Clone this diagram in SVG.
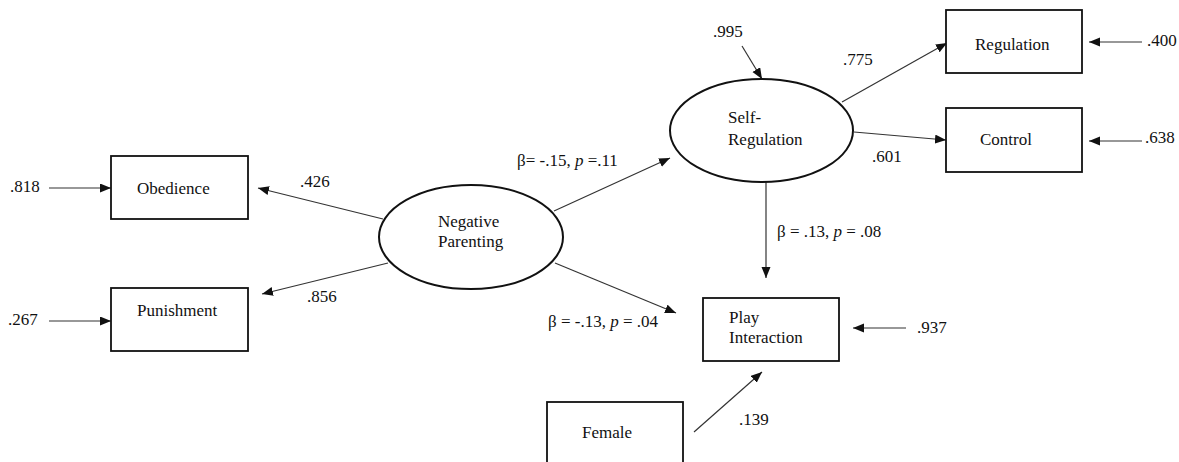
<svg xmlns="http://www.w3.org/2000/svg" width="1179" height="462" viewBox="0 0 1179 462">
<style>
text{font-family:'Liberation Serif','DejaVu Serif',serif;font-size:17px;fill:#111}
.box{fill:#fff;stroke:#111;stroke-width:1.8}
.ell{fill:#fff;stroke:#111;stroke-width:2}
.ln{stroke:#333;stroke-width:1.2;fill:none;marker-end:url(#ah)}
.i{font-style:italic}
</style>
<defs>
<marker id="ah" markerUnits="userSpaceOnUse" markerWidth="12" markerHeight="10" refX="11" refY="4.5" orient="auto">
<path d="M0,0 L11,4.5 L0,9 z" fill="#111"/>
</marker>
</defs>
<rect width="1179" height="462" fill="#fff"/>
<g id="connectors">
<line class="ln" x1="49" y1="188" x2="111" y2="188"/>
<line class="ln" x1="49" y1="321" x2="111" y2="321"/>
<line class="ln" x1="383" y1="219" x2="258" y2="188"/>
<line class="ln" x1="388" y1="263" x2="262" y2="294"/>
<line class="ln" x1="554" y1="211" x2="670" y2="158"/>
<line class="ln" x1="555" y1="263" x2="676" y2="313"/>
<line class="ln" x1="742" y1="46" x2="762" y2="79"/>
<line class="ln" x1="842" y1="102" x2="947" y2="43"/>
<line class="ln" x1="854" y1="132" x2="946" y2="140"/>
<line class="ln" x1="1142" y1="42" x2="1089" y2="42"/>
<line class="ln" x1="1142" y1="141" x2="1089" y2="141"/>
<line class="ln" x1="766" y1="182" x2="766" y2="278"/>
<line class="ln" x1="906" y1="328" x2="853" y2="328"/>
<line class="ln" x1="694" y1="432" x2="762" y2="372"/>
<text x="10" y="192">.818</text>
<text x="8" y="325">.267</text>
<text x="300" y="187">.426</text>
<text x="307" y="302">.856</text>
<text x="517" y="166">β= -.15, <tspan class="i">p</tspan> =.11</text>
<text x="548" y="327">β = -.13, <tspan class="i">p</tspan> = .04</text>
<text x="713" y="37">.995</text>
<text x="843" y="65">.775</text>
<text x="872" y="162">.601</text>
<text x="1147" y="46">.400</text>
<text x="1145" y="143">.638</text>
<text x="777" y="237">β = .13, <tspan class="i">p</tspan> = .08</text>
<text x="917" y="333">.937</text>
<text x="739" y="425">.139</text>
</g>
<g id="obedience">
<rect class="box" x="111" y="156" width="137" height="63"/>
<text x="137" y="194">Obedience</text>
</g>
<g id="punishment">
<rect class="box" x="111" y="288" width="137" height="63"/>
<text x="137" y="316">Punishment</text>
</g>
<g id="negative-parenting">
<ellipse class="ell" cx="471" cy="237" rx="92" ry="52"/>
<text x="438" y="227">Negative</text>
<text x="438" y="247">Parenting</text>
</g>
<g id="self-regulation">
<ellipse class="ell" cx="761.5" cy="130.5" rx="91.5" ry="51.5"/>
<text x="728" y="123">Self-</text>
<text x="728" y="145">Regulation</text>
</g>
<g id="regulation">
<rect class="box" x="946" y="10" width="136" height="63"/>
<text x="975" y="50">Regulation</text>
</g>
<g id="control">
<rect class="box" x="946" y="108" width="136" height="64"/>
<text x="980" y="145">Control</text>
</g>
<g id="play-interaction">
<rect class="box" x="703" y="298" width="136" height="63"/>
<text x="729" y="323">Play</text>
<text x="729" y="343">Interaction</text>
</g>
<g id="female">
<rect class="box" x="547" y="402" width="136" height="70"/>
<text x="582" y="438">Female</text>
</g>
</svg>
